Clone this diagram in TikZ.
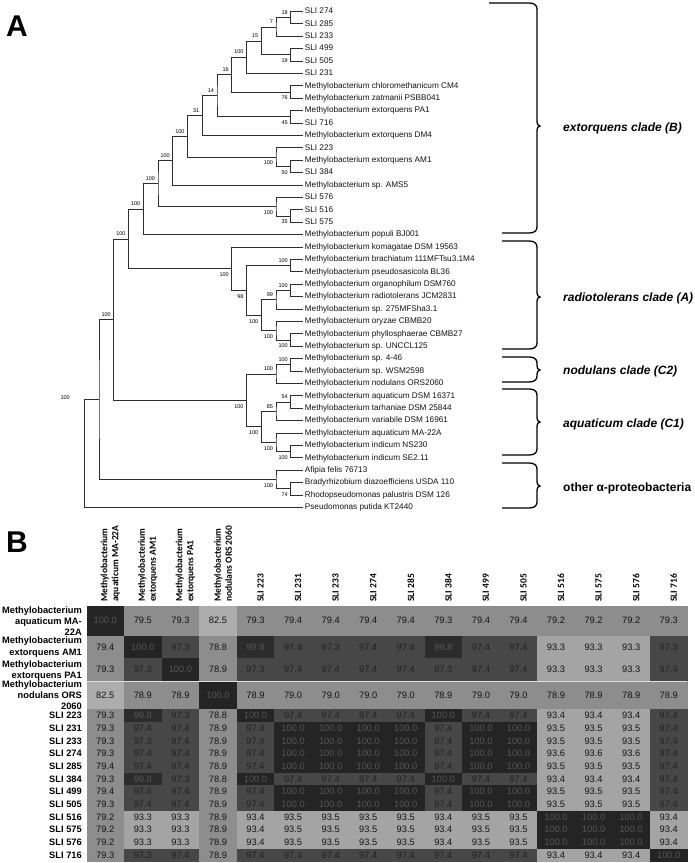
\documentclass[tikz,border=0pt]{standalone}
\usepackage{fontspec}
\setmainfont{Liberation Sans}
\newfontfamily\hdrfont{Carlito}
\usetikzlibrary{calc}
\definecolor{treecol}{HTML}{2E2E2E}
\definecolor{c100}{HTML}{242424}
\definecolor{c998}{HTML}{2C2C2C}
\definecolor{c97}{HTML}{474747}
\definecolor{c93}{HTML}{A4A4A4}
\definecolor{c825}{HTML}{ADADAD}
\definecolor{c79}{HTML}{8D8D8D}
\definecolor{t100}{HTML}{555555}
\definecolor{t97}{HTML}{222222}
\definecolor{tdef}{HTML}{141414}
\newcommand\br[3]{\draw[tree] (#2) -| (#1) |- (#3);}
\newcommand\bsU[2]{\node[bs] (b-#1) at ($(#1)+(-2.5,-5.2)$) {#2};}
\newcommand\bsD[2]{\node[bs] (b-#1) at ($(#1)+(-2.5,5.8)$) {#2};}
\newcommand\cbrace[5]{\draw[brace] (#1,#2) -- (529,#2) .. controls (534,#2) and (537,{#2+2}) .. (537,{#2+6}) -- (537,{#3-5}) .. controls (537,{#3-1.5}) and (538.5,#3) .. (540,#3) .. controls (538.5,#3) and (537,{#3+1.5}) .. (537,{#3+5}) -- (537,{#4-6}) .. controls (537,{#4-2}) and (534,#4) .. (529,#4) -- (#5,#4);}
\newcommand\hrow[4]{%
 \foreach \v [count=\c] in {#4}{%
   \pgfmathsetmacro\xl{86.5+(\c-1)*37.5625}%
   \pgfmathsetmacro\xr{\xl+37.5625+0.4}%
   \pgfmathsetmacro\xm{\xl+37.5625/2}%
   \pgfmathsetmacro\ym{(#2+#3)/2}%
   \ifdim\v pt>99.9pt \def\fc{c100}\def\tc{t100}\else
   \ifdim\v pt>99.5pt \def\fc{c998}\def\tc{t100}\else
   \ifdim\v pt>95pt \def\fc{c97}\def\tc{t97}\else
   \ifdim\v pt>90pt \def\fc{c93}\def\tc{tdef}\else
   \ifdim\v pt>80pt \def\fc{c825}\def\tc{tdef}\else
   \def\fc{c79}\def\tc{tdef}\fi\fi\fi\fi\fi
   \fill[fill=\fc] (\xl,#2) rectangle (\xr,{#3+0.4});
   \node[val,text=\tc] (v#1-\c) at (\xm,\ym) {\v};
 }}
\begin{document}
\begin{tikzpicture}[x=1pt,y=-1pt,
  tree/.style={draw=treecol, line width=0.9pt},
  leaf/.style={anchor=west, inner sep=1.2pt, font=\fontsize{8.2}{9}\selectfont, text=black!92, text height=5.9pt, text depth=1.7pt},
  bs/.style={anchor=east, inner sep=0.3pt, font=\fontsize{5.5}{6}\selectfont},
  clade/.style={anchor=west, inner sep=0pt, font=\bfseries\fontsize{12}{14}\selectfont},
  brace/.style={draw=black, line width=1.3pt},
  panel/.style={anchor=base west, inner sep=0pt, font=\bfseries\fontsize{30}{32}\selectfont},
  val/.style={inner sep=0pt, font=\fontsize{9.3}{10}\selectfont},
  rowlab/.style={anchor=east, align=right, inner sep=0pt, font=\bfseries\fontsize{9.3}{11.2}\selectfont},
  hdr/.style={rotate=90, anchor=west, align=left, inner sep=0pt, font=\hdrfont\bfseries\fontsize{9.5}{11}\selectfont}]
\useasboundingbox (0,0) rectangle (695,863);
\fill[white] (0,0) rectangle (695,863);

% panel letters
\node[panel] (pA) at (6,36) {A};
\node[panel] (pB) at (6,552) {B};

% leaves
\foreach \t [count=\i] in {SLI 274, SLI 285, SLI 233, SLI 499, SLI 505, SLI 231,
 Methylobacterium chloromethanicum CM4, Methylobacterium zatmanii PSBB041,
 Methylobacterium extorquens PA1, SLI 716, Methylobacterium extorquens DM4,
 SLI 223, Methylobacterium extorquens AM1, SLI 384, Methylobacterium sp. AMS5,
 SLI 576, SLI 516, SLI 575, Methylobacterium populi BJ001,
 Methylobacterium komagatae DSM 19563, Methylobacterium brachiatum 111MFTsu3.1M4,
 Methylobacterium pseudosasicola BL36, Methylobacterium organophilum DSM760,
 Methylobacterium radiotolerans JCM2831, Methylobacterium sp. 275MFSha3.1,
 Methylobacterium oryzae CBMB20, Methylobacterium phyllosphaerae CBMB27,
 Methylobacterium sp. UNCCL125, Methylobacterium sp. 4-46, Methylobacterium sp. WSM2598,
 Methylobacterium nodulans ORS2060, Methylobacterium aquaticum DSM 16371,
 Methylobacterium tarhaniae DSM 25844, Methylobacterium variabile DSM 16961,
 Methylobacterium aquaticum MA-22A, Methylobacterium indicum NS230,
 Methylobacterium indicum SE2.11, Afipia felis 76713,
 Bradyrhizobium diazoefficiens USDA 110, Rhodopseudomonas palustris DSM 126,
 Pseudomonas putida KT2440}{
  \pgfmathsetmacro\yy{11.5+(\i-1)*12.4}
  \coordinate (L\i) at (303,\yy);
  \node[leaf] (t\i) at (303.5,\yy) {\t};
}

% internal nodes (x = level, y = mid of children)
\coordinate (na)   at (290.7,17.7);
\coordinate (nb)   at (276,27.0);
\coordinate (nd)   at (290.7,54.9);
\coordinate (nc)   at (261.25,40.95);
\coordinate (ne)   at (246.5,57.22);
\coordinate (ng)   at (290.7,92.1);
\coordinate (nf)   at (231.75,74.66);
\coordinate (ni)   at (290.7,116.9);
\coordinate (nh)   at (217,95.78);
\coordinate (nj)   at (202.25,115.64);
\coordinate (nn)   at (290.7,166.5);
\coordinate (nl)   at (276,157.2);
\coordinate (nk)   at (187.5,136.42);
\coordinate (nm)   at (172.75,160.76);
\coordinate (np)   at (290.7,216.1);
\coordinate (nq)   at (276,206.8);
\coordinate (nr)   at (158,183.78);
\coordinate (ns)   at (143.25,209.24);
\coordinate (nw)   at (290.7,265.7);
\coordinate (nyy)  at (290.7,290.5);
\coordinate (ny1)  at (276,299.8);
\coordinate (nz2)  at (290.7,340.1);
\coordinate (nz1)  at (276,330.8);
\coordinate (nx1)  at (261.25,315.3);
\coordinate (nv)   at (246.5,290.5);
\coordinate (nu)   at (231.75,268.8);
\coordinate (nt)   at (128.5,239.02);
\coordinate (nnw)  at (290.7,364.9);
\coordinate (nnod) at (276,374.2);
\coordinate (na54) at (290.7,402.1);
\coordinate (naq2) at (276,411.4);
\coordinate (na100) at (290.7,451.7);
\coordinate (naq3) at (276,442.4);
\coordinate (naq1) at (261.25,426.9);
\coordinate (nAQ)  at (246.5,400.55);
\coordinate (nT2)  at (113.75,319.79);
\coordinate (nbr)  at (290.7,488.9);
\coordinate (no1)  at (276,479.6);
\coordinate (nT3)  at (99,399.7);
\coordinate (nT4)  at (84.25,453.6);

% branches
\br{na}{L1}{L2}
\br{nb}{na}{L3}
\br{nd}{L4}{L5}
\br{nc}{nb}{nd}
\br{ne}{nc}{L6}
\br{ng}{L7}{L8}
\br{nf}{ne}{ng}
\br{ni}{L9}{L10}
\br{nh}{nf}{ni}
\br{nj}{nh}{L11}
\br{nn}{L13}{L14}
\br{nl}{L12}{nn}
\br{nk}{nj}{nl}
\br{nm}{nk}{L15}
\br{np}{L17}{L18}
\br{nq}{L16}{np}
\br{nr}{nm}{nq}
\br{ns}{nr}{L19}
\br{nw}{L21}{L22}
\br{nyy}{L23}{L24}
\br{ny1}{nyy}{L25}
\br{nz2}{L27}{L28}
\br{nz1}{L26}{nz2}
\br{nx1}{ny1}{nz1}
\br{nv}{nw}{nx1}
\br{nu}{L20}{nv}
\br{nt}{ns}{nu}
\br{nnw}{L29}{L30}
\br{nnod}{nnw}{L31}
\br{na54}{L32}{L33}
\br{naq2}{na54}{L34}
\br{na100}{L36}{L37}
\br{naq3}{L35}{na100}
\br{naq1}{naq2}{naq3}
\br{nAQ}{nnod}{naq1}
\br{nT2}{nt}{nAQ}
\br{nbr}{L39}{L40}
\br{no1}{L38}{nbr}
\br{nT3}{nT2}{no1}
\br{nT4}{nT3}{L41}

% bootstrap values
\bsU{na}{18} \bsU{nb}{7} \bsU{nc}{15} \bsD{nd}{19} \bsU{ne}{100}
\bsU{nf}{16} \bsD{ng}{76} \bsU{nh}{14} \bsD{ni}{45} \bsU{nj}{31}
\bsU{nk}{100} \bsD{nl}{100} \bsD{nn}{50} \bsU{nm}{100} \bsD{nq}{100}
\bsD{np}{35} \bsU{nr}{100} \bsU{ns}{100} \bsU{nt}{100} \bsU{nw}{100}
\bsU{nyy}{100} \bsU{ny1}{99} \bsD{nz2}{100} \bsD{nz1}{100} \bsD{nx1}{100}
\bsD{nv}{98} \bsD{nu}{100} \bsU{nnw}{100} \bsU{nnod}{100} \bsU{na54}{54}
\bsU{naq2}{85} \bsD{na100}{100} \bsD{naq3}{100} \bsD{naq1}{100} \bsD{nAQ}{100}
\bsU{nT2}{100} \bsD{nbr}{74} \bsD{no1}{100}
\node[bs] (b-nT3) at ($(nT4)+(-14,-56)$) {100};

% clade brackets
\cbrace{489}{3}{126}{233}{502}
\cbrace{502}{241}{297}{349}{502}
\cbrace{502}{357}{370}{382}{502}
\cbrace{502}{389}{422}{455}{502}
\cbrace{502}{463}{486}{508}{502}
\node[clade] (cB) at (563,128) {\itshape extorquens clade (B)};
\node[clade] (cA) at (563,298) {\itshape radiotolerans clade (A)};
\node[clade] (cC2) at (563,371) {\itshape nodulans clade (C2)};
\node[clade] (cC1) at (563,424) {\itshape aquaticum clade (C1)};
\node[clade] (cO) at (563,488) {other α-proteobacteria};

% heat map
\hrow{1}{605.5}{636}{100.0,79.5,79.3,82.5,79.3,79.4,79.4,79.4,79.4,79.3,79.4,79.4,79.2,79.2,79.2,79.3}
\hrow{2}{636}{658}{79.4,100.0,97.3,78.8,99.8,97.4,97.3,97.4,97.4,99.8,97.4,97.4,93.3,93.3,93.3,97.3}
\hrow{3}{658}{681}{79.3,97.3,100.0,78.9,97.3,97.4,97.4,97.4,97.4,97.3,97.4,97.4,93.3,93.3,93.3,97.4}
\hrow{4}{681}{709.4}{82.5,78.9,78.9,100.0,78.9,79.0,79.0,79.0,79.0,78.9,79.0,79.0,78.9,78.9,78.9,78.9}
\hrow{5}{709.4}{722.07}{79.3,99.8,97.3,78.8,100.0,97.4,97.4,97.4,97.4,100.0,97.4,97.4,93.4,93.4,93.4,97.4}
\hrow{6}{722.07}{734.73}{79.3,97.4,97.4,78.9,97.4,100.0,100.0,100.0,100.0,97.4,100.0,100.0,93.5,93.5,93.5,97.4}
\hrow{7}{734.73}{747.4}{79.3,97.3,97.4,78.9,97.4,100.0,100.0,100.0,100.0,97.4,100.0,100.0,93.5,93.5,93.5,97.4}
\hrow{8}{747.4}{760.07}{79.3,97.4,97.4,78.9,97.4,100.0,100.0,100.0,100.0,97.4,100.0,100.0,93.6,93.6,93.6,97.4}
\hrow{9}{760.07}{772.73}{79.4,97.4,97.4,78.9,97.4,100.0,100.0,100.0,100.0,97.4,100.0,100.0,93.5,93.5,93.5,97.4}
\hrow{10}{772.73}{785.4}{79.3,99.8,97.3,78.8,100.0,97.4,97.4,97.4,97.4,100.0,97.4,97.4,93.4,93.4,93.4,97.4}
\hrow{11}{785.4}{798.07}{79.4,97.4,97.4,78.9,97.4,100.0,100.0,100.0,100.0,97.4,100.0,100.0,93.5,93.5,93.5,97.4}
\hrow{12}{798.07}{810.73}{79.3,97.4,97.4,78.9,97.4,100.0,100.0,100.0,100.0,97.4,100.0,100.0,93.5,93.5,93.5,97.4}
\hrow{13}{810.73}{823.4}{79.2,93.3,93.3,78.9,93.4,93.5,93.5,93.5,93.5,93.4,93.5,93.5,100.0,100.0,100.0,93.4}
\hrow{14}{823.4}{836.07}{79.2,93.3,93.3,78.9,93.4,93.5,93.5,93.5,93.5,93.4,93.5,93.5,100.0,100.0,100.0,93.4}
\hrow{15}{836.07}{848.73}{79.2,93.3,93.3,78.9,93.4,93.5,93.5,93.5,93.5,93.4,93.5,93.5,100.0,100.0,100.0,93.4}
\hrow{16}{848.73}{861.4}{79.3,97.3,97.4,78.9,97.4,97.4,97.4,97.4,97.4,97.4,97.4,97.4,93.4,93.4,93.4,100.0}
\draw[white!75!gray, line width=0.9pt] (86.5,681) -- (687.4,681);

% row labels
\node[rowlab] (r1) at (82,621) {Methylobacterium\\aquaticum MA-\\22A};
\node[rowlab] (r2) at (82,647) {Methylobacterium\\extorquens AM1};
\node[rowlab] (r3) at (82,670.5) {Methylobacterium\\extorquens PA1};
\node[rowlab] (r4) at (82,695.2) {Methylobacterium\\nodulans ORS\\2060};
\foreach \t [count=\i from 5] in {SLI 223, SLI 231, SLI 233, SLI 274, SLI 285, SLI 384, SLI 499, SLI 505, SLI 516, SLI 575, SLI 576, SLI 716}{
  \pgfmathsetmacro\yy{709.4+(\i-5)*12.667+6.33}
  \node[rowlab] (r\i) at (82,\yy) {\t};
}

% column headers
\foreach \t [count=\c] in {{Methylobacterium\\aquaticum MA-22A},{Methylobacterium\\extorquens AM1},{Methylobacterium\\extorquens PA1},{Methylobacterium\\nodulans ORS 2060},SLI 223, SLI 231, SLI 233, SLI 274, SLI 285, SLI 384, SLI 499, SLI 505, SLI 516, SLI 575, SLI 576, SLI 716}{
  \pgfmathsetmacro\xx{86.5+(\c-0.5)*37.5625+5}
  \node[hdr] (h\c) at (\xx,602) {\t};
}
\end{tikzpicture}
\end{document}
